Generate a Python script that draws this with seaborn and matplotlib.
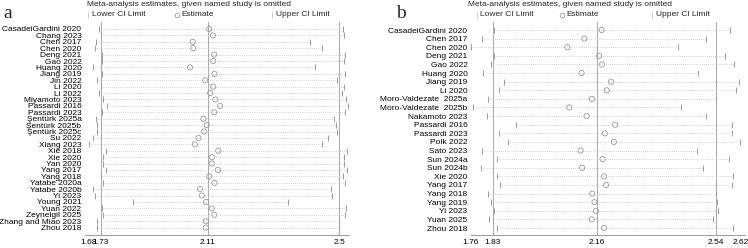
import numpy as np
import pandas as pd
import matplotlib
matplotlib.use("Agg")
import matplotlib.pyplot as plt
from matplotlib.lines import Line2D
import seaborn as sns

# ---------------- data: panel a ----------------
studies_a = ["CasadeiGardini 2020", "Chang 2023", "Chen 2017", "Chen 2020", "Deng 2021",
             "Gao 2022", "Huang 2020", "Jiang 2019", "Jin 2022", "Li 2020", "Li 2022",
             "Miyamoto 2023", "Passardi 2016", "Passardi 2023", "Şentürk 2025a",
             "Şentürk 2025b", "Şentürk 2025c", "Su 2022", "Xiang 2023", "Xie 2018",
             "Xie 2020", "Yan 2020", "Yang 2017", "Yang 2018", "Yatabe 2020a",
             "Yatabe 2020b", "Yi 2023", "Young 2021", "Yuan 2022", "Zeynelgil 2025",
             "Zhang and Miao 2023", "Zhou 2018"]
est_a = [2.115, 2.127, 2.061, 2.063, 2.131, 2.128, 2.052, 2.132, 2.102, 2.128, 2.118,
         2.135, 2.150, 2.131, 2.096, 2.107, 2.099, 2.080, 2.068, 2.144, 2.124, 2.123,
         2.143, 2.115, 2.132, 2.085, 2.091, 2.105, 2.123, 2.131, 2.104, 2.104]
lower_a = [1.722, 1.730, 1.710, 1.706, 1.734, 1.734, 1.698, 1.734, 1.714, 1.730, 1.722,
           1.738, 1.754, 1.734, 1.710, 1.714, 1.714, 1.698, 1.682, 1.750, 1.738, 1.738,
           1.750, 1.730, 1.738, 1.698, 1.706, 1.852, 1.734, 1.738, 1.714, 1.714]
upper_a = [2.510, 2.514, 2.419, 2.452, 2.516, 2.514, 2.434, 2.516, 2.494, 2.514, 2.508,
           2.519, 2.524, 2.516, 2.486, 2.492, 2.494, 2.470, 2.452, 2.522, 2.514, 2.514,
           2.522, 2.510, 2.516, 2.477, 2.480, 2.357, 2.519, 2.516, 2.500, 2.500]
overall_a = [1.73, 2.11, 2.50]           # lower CI, estimate, upper CI
ticks_a = [1.68, 1.73, 2.11, 2.5]
ticklabels_a = ["1.68", "1.73", "2.11", "2.5"]

# ---------------- data: panel b ----------------
studies_b = ["CasadeiGardini 2020", "Chen 2017", "Chen 2020", "Deng 2021", "Gao 2022",
             "Huang 2020", "Jiang 2019", "Li 2020", "Moro-Valdezate  2025a",
             "Moro-Valdezate  2025b", "Nakamoto 2023", "Passardi 2016", "Passardi 2023",
             "Polk 2022", "Sato 2023", "Sun 2024a", "Sun 2024b", "Xie 2020", "Yang 2017",
             "Yang 2018", "Yang 2019", "Yi 2023", "Yuan 2025", "Zhou 2018"]
est_b = [2.176, 2.121, 2.067, 2.168, 2.177, 2.112, 2.206, 2.192, 2.145, 2.073, 2.128,
         2.219, 2.186, 2.215, 2.109, 2.179, 2.114, 2.184, 2.190, 2.146, 2.153, 2.158,
         2.144, 2.184]
lower_b = [1.834, 1.796, 1.760, 1.833, 1.824, 1.797, 1.866, 1.849, 1.814, 1.766, 1.810,
           1.902, 1.849, 1.879, 1.794, 1.844, 1.792, 1.843, 1.853, 1.815, 1.823, 1.832,
           1.818, 1.843]
upper_b = [2.585, 2.508, 2.419, 2.569, 2.598, 2.484, 2.612, 2.603, 2.539, 2.428, 2.507,
           2.590, 2.590, 2.618, 2.481, 2.582, 2.498, 2.595, 2.592, 2.539, 2.544, 2.548,
           2.532, 2.593]
overall_b = [1.83, 2.16, 2.54]
ticks_b = [1.76, 1.83, 2.16, 2.54, 2.62]
ticklabels_b = ["1.76", "1.83", "2.16", "2.54", "2.62"]

title = "Meta-analysis estimates, given named study is omitted"
legend_labels = ["Lower CI Limit", "Estimate", "Upper CI Limit"]

# ---------------- style ----------------
sns.set_style("white")
plt.rcParams["font.family"] = ["Liberation Sans", "DejaVu Sans"]

W, H = 748, 248
fig = plt.figure(figsize=(W / 100, H / 100), dpi=100)

MARK = "#9a9a9a"
DOT = "#c4c4c4"
REF = "#a8a8a8"


def px_x(p):
    return p / W


def px_y(p):
    return 1 - p / H


def panel(rect, studies, est, lower, upper, overall, ticks, ticklabels,
          xlim, ylim, square_scale):
    ax = fig.add_axes(rect)
    df = pd.DataFrame({"study": studies, "est": est, "lower": lower, "upper": upper})
    pos = np.arange(len(studies))
    ax.hlines(pos, df["lower"], df["upper"], colors=DOT, linestyles=(0, (1, 1.5)),
              linewidth=0.6, zorder=1)
    for v in overall:
        ax.axvline(v, color=REF, linewidth=0.7, zorder=0)
    sns.scatterplot(data=df, x="lower", y="study", marker="|", color=MARK, s=22,
                    linewidth=0.7, ax=ax, zorder=3, legend=False)
    sns.scatterplot(data=df, x="upper", y="study", marker="|", color=MARK, s=22,
                    linewidth=0.7, ax=ax, zorder=3, legend=False)
    sns.scatterplot(data=df, x="est", y="study", marker="o", facecolor="none",
                    edgecolor=MARK, s=14, linewidth=0.6, ax=ax, zorder=4, legend=False)
    if square_scale:
        ax.set_xscale("function",
                      functions=(lambda x: np.asarray(x) ** 2,
                                 lambda x: np.sqrt(np.clip(x, 0, None))))
    ax.set_xlim(*xlim)
    ax.set_ylim(*ylim)
    ax.set_xticks(ticks)
    ax.set_xticklabels(ticklabels)
    ax.minorticks_off()
    ax.set_xlabel("")
    ax.set_ylabel("")
    ax.tick_params(axis="y", length=0, pad=2.6, labelsize=6, colors="black")
    ax.tick_params(axis="x", length=0, pad=3, labelsize=6, colors="black")
    for s in ["top", "right", "left"]:
        ax.spines[s].set_visible(False)
    ax.spines["bottom"].set_color("#9a9a9a")
    ax.spines["bottom"].set_linewidth(0.7)
    ax.patch.set_alpha(0)
    return ax


# panel a (axis spaced on a squared scale as in the reference)
axa = panel([px_x(85), px_y(235), px_x(349 - 85), (235 - 22) / H],
            studies_a, est_a, lower_a, upper_a, overall_a, ticks_a, ticklabels_a,
            (1.6655, 2.527), (32.15, -1.09), True)
# panel b
axb = panel([px_x(471), px_y(235), px_x(745 - 471), (235 - 22) / H],
            studies_b, est_b, lower_b, upper_b, overall_b, ticks_b, ticklabels_b,
            (1.760, 2.6325), (23.81, -0.93), False)

# titles
fig.text(px_x(189), px_y(4.5), title, ha="center", va="center", fontsize=6)
fig.text(px_x(570), px_y(4.5), title, ha="center", va="center", fontsize=6)

# panel letters
fig.text(px_x(3), px_y(18), "a", ha="left", va="baseline", fontsize=14,
         family=["Liberation Serif"])
fig.text(px_x(396), px_y(18), "b", ha="left", va="baseline", fontsize=14,
         family=["Liberation Serif"])


# legends
def legend_row(xs):
    markers = ["|", "o", "|"]
    for (mx, tx), m, lab in zip(xs, markers, legend_labels):
        if m == "o":
            fig.add_artist(Line2D([px_x(mx)], [px_y(14.5)], marker="o", markersize=3.3,
                                  markerfacecolor="none", markeredgecolor=MARK,
                                  markeredgewidth=0.6, linestyle="none",
                                  transform=fig.transFigure))
        else:
            fig.add_artist(Line2D([px_x(mx)], [px_y(14.5)], marker="|", markersize=5,
                                  markeredgecolor="#c0c0c0", markeredgewidth=0.6,
                                  linestyle="none", transform=fig.transFigure))
        fig.text(px_x(tx), px_y(14.5), lab, ha="left", va="center", fontsize=6)


legend_row([(88, 92), (177, 181), (272, 276)])
legend_row([(477, 480.5), (562, 566), (652, 656)])

fig.savefig("out.png", dpi=100)
